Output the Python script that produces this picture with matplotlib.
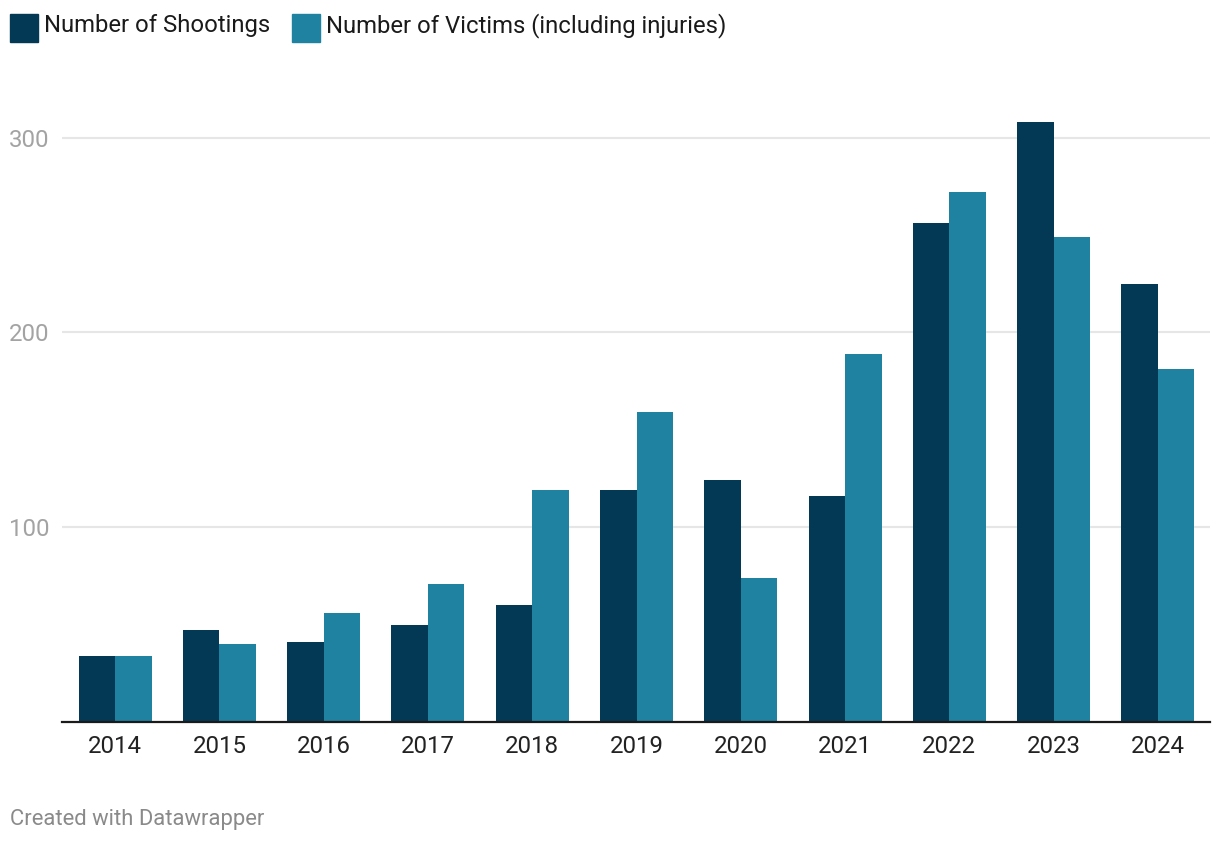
import numpy as np
import matplotlib.pyplot as plt
from matplotlib.patches import Rectangle

plt.rcParams['font.family'] = ['Roboto', 'DejaVu Sans']

years = ['2014', '2015', '2016', '2017', '2018', '2019', '2020', '2021', '2022', '2023', '2024']
shootings = [34, 47, 41, 50, 60, 119, 124, 116, 256, 308, 225]
victims = [34, 40, 56, 71, 119, 159, 74, 189, 272, 249, 181]
yticks = [100, 200, 300]

navy = '#043956'
teal = '#1f82a1'

W, H = 1220, 844
fig = plt.figure(figsize=(W / 100, H / 100), dpi=100)
ax = fig.add_axes([62 / W, (H - 722) / H, (1210 - 62) / W, (722 - 100) / H])

x = np.arange(len(years))
bw = 0.35
ax.bar(x - bw / 2, shootings, bw, color=navy, zorder=3)
ax.bar(x + bw / 2, victims, bw, color=teal, zorder=3)

ax.set_xlim(-0.51, len(years) - 0.5)
ax.set_ylim(0, 319.3)
for t in yticks:
    ax.axhline(t, color='#e6e6e6', lw=1.5, zorder=1)
ax.axhline(0, color='#1a1a1a', lw=1.6, zorder=4, clip_on=False)

for s in ax.spines.values():
    s.set_visible(False)
ax.set_xticks(x)
ax.set_xticklabels(years, fontsize=17.3, color='#222222')
ax.tick_params(axis='x', length=0, pad=9.5)
ax.set_yticks(yticks)
ax.set_yticklabels([str(t) for t in yticks], fontsize=17.3, color='#a3a3a3')
ax.tick_params(axis='y', length=0, pad=9)

# legend drawn by hand, datawrapper style
items = [('Number of Shootings', navy, 10), ('Number of Victims (including injuries)', teal, 292)]
for label, col, px in items:
    fig.patches.append(Rectangle((px / W, (H - 42) / H), 28 / W, 28 / H,
                                 transform=fig.transFigure, color=col))
    fig.text((px + 34) / W, (H - 25.5) / H, label, fontsize=17.2, color='#1a1a1a',
             va='center', ha='left')

fig.text(10 / W, (H - 820) / H, 'Created with Datawrapper', fontsize=15.8,
         color='#8a8a8a', va='center', ha='left')

fig.savefig('out.png', dpi=100)
